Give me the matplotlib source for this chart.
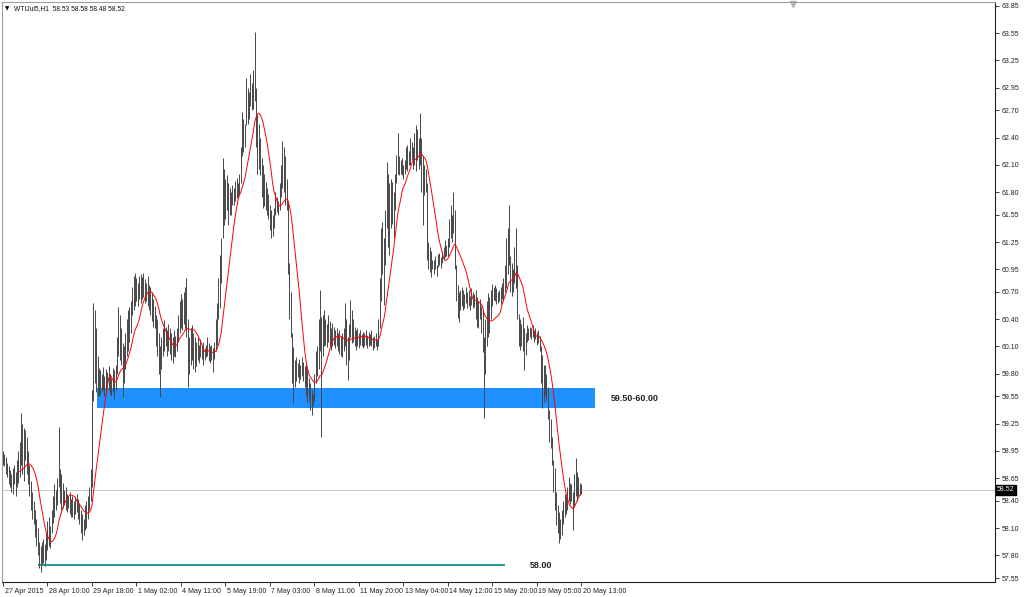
import numpy as np
import pandas as pd
import matplotlib
matplotlib.use('Agg')
import matplotlib.pyplot as plt
import matplotlib.transforms as mtransforms
from matplotlib.patches import Rectangle

plt.rcParams['font.family'] = ['Liberation Sans', 'DejaVu Sans']

# WTI Jul 2015 futures, H1 bars, 27 Apr - 20 May 2015
symbol = 'WTIJul5,H1'
last_ohlc = [58.53, 58.58, 58.48, 58.52]

highs = [
    58.95, 58.92, 58.88, 58.82, 58.78, 58.74, 58.70, 58.76, 58.80, 58.72,
    58.85, 58.95, 59.05, 59.37, 59.25, 59.20, 59.18, 59.10, 58.95, 58.80,
    58.62, 58.50, 58.40, 58.30, 58.20, 58.10, 57.95, 57.90, 57.95, 57.98,
    57.92, 58.05, 58.18, 58.22, 58.12, 58.30, 58.45, 58.58, 58.52, 58.65,
    59.21, 58.75, 58.70, 58.60, 58.52, 58.55, 58.48, 58.45, 58.50, 58.42,
    58.45, 58.40, 58.44, 58.48, 58.42, 58.38, 58.30, 58.25, 58.20, 58.35,
    58.40, 58.45, 58.55, 58.75, 59.62, 60.58, 60.50, 60.30, 60.00, 59.86,
    59.84, 59.80, 59.87, 59.78, 59.85, 59.82, 59.88, 59.80, 59.75, 59.86,
    59.84, 59.90, 60.20, 60.54, 60.45, 60.30, 60.14, 60.10, 60.25, 60.40,
    60.50, 60.54, 60.60, 60.75, 60.88, 60.91, 60.85, 60.80, 60.88, 60.90,
    60.86, 60.91, 60.84, 60.80, 60.88, 60.78, 60.76, 60.70, 60.62, 60.55,
    60.45, 60.40, 60.25, 60.10, 60.20, 60.30, 60.39, 60.32, 60.28, 60.35,
    60.30, 60.25, 60.20, 60.28, 60.22, 60.30, 60.45, 60.60, 60.68, 60.62,
    60.70, 60.75, 60.85, 60.40, 60.20, 60.30, 60.34, 60.25, 60.20, 60.15,
    60.20, 60.12, 60.18, 60.10, 60.15, 60.08, 60.12, 60.20, 60.14, 60.10,
    60.12, 60.08, 60.15, 60.40, 60.58, 60.85, 61.11, 61.30, 62.18, 62.05,
    61.95, 61.99, 61.90, 61.85, 61.80, 61.88, 61.85, 61.92, 61.96, 61.90,
    62.00, 62.30, 62.68, 62.60, 62.55, 63.06, 62.95, 62.90, 63.10, 63.00,
    63.15, 63.56, 62.95, 62.65, 62.55, 62.40, 62.18, 62.10, 62.00, 61.91,
    61.85, 61.78, 61.66, 61.60, 61.55, 61.62, 61.80, 61.75, 61.70, 61.90,
    62.10, 62.36, 62.30, 62.20, 61.95, 61.70, 61.02, 60.70, 60.25, 60.09,
    59.95, 59.98, 59.92, 59.96, 59.90, 59.98, 59.93, 59.88, 59.91, 59.85,
    59.75, 59.70, 59.62, 59.58, 59.80, 60.05, 60.10, 60.40, 60.72, 60.42,
    60.45, 60.50, 60.40, 60.35, 60.45, 60.38, 60.30, 60.36, 60.32, 60.28,
    60.30, 60.25, 60.28, 60.22, 60.25, 60.30, 60.58, 60.40, 60.20, 60.35,
    60.61, 60.50, 60.40, 60.31, 60.28, 60.30, 60.25, 60.28, 60.24, 60.26,
    60.25, 60.28, 60.22, 60.26, 60.24, 60.28, 60.20, 60.22, 60.25, 60.18,
    60.40, 60.85, 61.40, 61.47, 61.30, 61.60, 62.13, 62.00, 61.90, 61.95,
    61.91, 61.80, 62.00, 62.21, 62.45, 62.20, 62.15, 62.18, 62.10, 62.15,
    62.30, 62.32, 62.25, 62.40, 62.35, 62.30, 62.45, 62.54, 62.50, 62.40,
    62.67, 62.40, 62.20, 62.10, 62.05, 61.90, 61.25, 61.20, 61.15, 61.05,
    61.05, 61.10, 61.00, 61.12, 61.13, 61.08, 61.15, 61.20, 61.27, 61.22,
    61.30, 61.50, 61.66, 61.55, 61.80, 61.60, 61.00, 60.78, 60.70, 60.72,
    60.75, 60.72, 60.68, 60.75, 60.70, 60.72, 60.66, 60.74, 60.70, 60.68,
    60.72, 60.65, 60.60, 60.62, 60.55, 60.50, 60.20, 60.40, 60.60, 60.69,
    60.65, 60.72, 60.79, 60.76, 60.78, 60.74, 60.70, 60.72, 60.76, 60.80,
    60.85, 61.00, 61.30, 61.40, 61.66, 61.10, 61.02, 60.95, 61.20, 61.40,
    61.00, 60.46, 60.40, 60.35, 60.42, 60.30, 60.25, 60.34, 60.30, 60.32,
    60.30, 60.34, 60.28, 60.30, 60.26, 60.28, 60.22, 60.10, 60.01, 59.90,
    59.90, 59.80, 59.65, 59.40, 59.30, 59.10, 58.85, 58.76, 58.50, 58.35,
    58.28, 58.20, 58.30, 58.40, 58.47, 58.45, 58.55, 58.66, 58.60, 58.58,
    58.50, 58.70, 58.87, 58.72, 58.66, 58.60, 58.58,
]

lows = [
    58.80, 58.78, 58.70, 58.66, 58.58, 58.55, 58.50, 58.48, 58.58, 58.45,
    58.55, 58.60, 58.66, 58.80, 58.70, 58.62, 58.85, 58.70, 58.58, 58.45,
    58.30, 58.20, 58.15, 58.00, 57.90, 57.80, 57.66, 57.62, 57.70, 57.72,
    57.68, 57.75, 57.86, 57.90, 57.88, 58.05, 58.16, 58.22, 58.30, 58.35,
    58.55, 58.38, 58.30, 58.32, 58.35, 58.30, 58.28, 58.32, 58.25, 58.22,
    58.22, 58.20, 58.25, 58.28, 58.20, 58.15, 58.05, 57.97, 58.02, 58.08,
    58.10, 58.20, 58.30, 58.40, 58.55, 59.50, 59.70, 59.60, 59.55, 59.55,
    59.58, 59.60, 59.62, 59.55, 59.60, 59.64, 59.62, 59.58, 59.55, 59.60,
    59.52, 59.62, 59.80, 60.00, 59.95, 59.90, 59.54, 59.70, 59.85, 60.00,
    60.05, 60.15, 60.25, 60.45, 60.50, 60.55, 60.60, 60.55, 60.62, 60.58,
    60.62, 60.65, 60.58, 60.60, 60.55, 60.50, 60.45, 60.38, 60.31, 60.30,
    60.10, 60.00, 59.80, 59.54, 59.85, 60.00, 60.05, 60.10, 60.00, 60.05,
    60.02, 59.95, 59.92, 60.00, 59.98, 60.05, 60.15, 60.25, 60.30, 60.28,
    60.35, 60.30, 60.20, 59.65, 59.80, 59.90, 59.95, 59.85, 59.82, 59.88,
    59.95, 59.92, 59.98, 59.96, 59.90, 59.95, 59.98, 60.00, 59.94, 59.92,
    59.95, 59.82, 59.96, 60.05, 60.12, 60.40, 60.52, 60.80, 61.30, 61.44,
    61.50, 61.60, 61.44, 61.55, 61.55, 61.66, 61.66, 61.70, 61.74, 61.75,
    61.78, 61.90, 62.20, 62.24, 62.30, 62.54, 62.55, 62.60, 62.75, 62.70,
    62.72, 62.80, 62.30, 62.00, 62.05, 61.99, 61.75, 61.63, 61.65, 61.60,
    61.55, 61.50, 61.38, 61.30, 61.32, 61.40, 61.55, 61.58, 61.55, 61.60,
    61.75, 61.85, 61.80, 61.66, 61.60, 60.90, 60.40, 60.20, 59.70, 59.48,
    59.65, 59.72, 59.76, 59.70, 59.74, 59.78, 59.72, 59.65, 59.55, 59.48,
    59.50, 59.40, 59.35, 59.45, 59.50, 59.70, 59.78, 59.85, 60.05, 59.10,
    60.00, 60.10, 60.12, 60.09, 60.15, 60.10, 60.06, 60.10, 60.12, 60.08,
    60.10, 60.05, 60.02, 60.00, 59.98, 60.05, 60.10, 59.90, 59.73, 59.95,
    60.20, 60.14, 60.15, 60.10, 60.06, 60.10, 60.08, 60.12, 60.10, 60.08,
    60.10, 60.12, 60.08, 60.10, 60.12, 60.10, 60.06, 60.08, 60.10, 60.06,
    60.10, 60.30, 60.60, 60.90, 60.56, 61.00, 61.40, 61.20, 61.11, 61.40,
    61.45, 61.30, 61.60, 61.90, 62.00, 61.99, 62.00, 61.99, 61.95, 62.00,
    62.05, 62.03, 62.10, 62.10, 62.15, 62.05, 62.10, 62.03, 62.15, 62.05,
    62.10, 61.80, 61.44, 61.77, 61.80, 61.05, 60.95, 60.92, 60.87, 60.95,
    60.90, 60.95, 60.88, 60.98, 61.00, 60.96, 61.02, 61.05, 61.08, 61.10,
    61.10, 61.20, 61.30, 61.25, 61.35, 60.95, 60.60, 60.41, 60.37, 60.50,
    60.55, 60.50, 60.52, 60.58, 60.52, 60.55, 60.50, 60.56, 60.52, 60.54,
    60.40, 60.32, 60.30, 60.40, 60.25, 60.04, 59.31, 59.80, 60.10, 60.20,
    60.25, 60.40, 60.55, 60.61, 60.60, 60.57, 60.58, 60.60, 60.57, 60.62,
    60.60, 60.70, 60.74, 60.90, 61.00, 60.70, 60.66, 60.70, 60.80, 60.74,
    60.40, 60.10, 60.06, 60.10, 60.05, 59.84, 60.01, 60.15, 60.17, 60.20,
    60.18, 60.20, 60.15, 60.18, 60.12, 60.14, 60.05, 59.70, 59.42, 59.49,
    59.56, 59.50, 59.30, 59.05, 58.98, 58.80, 58.50, 58.30, 58.13, 58.05,
    57.94, 57.98, 58.02, 58.15, 58.22, 58.25, 58.30, 58.40, 58.36, 58.40,
    58.08, 58.35, 58.45, 58.40, 58.45, 58.46, 58.48,
]

ma_period = 13

# one label every 32 bars
time_labels = ['27 Apr 2015', '28 Apr 10:00', '29 Apr 18:00', '1 May 02:00',
               '4 May 11:00', '5 May 19:00', '7 May 03:00', '8 May 11:00',
               '11 May 20:00', '13 May 04:00', '14 May 12:00', '15 May 20:00',
               '19 May 05:00', '20 May 13:00']
label_step = 32

price_ticks = [63.85, 63.55, 63.25, 62.95, 62.70, 62.40, 62.10, 61.80, 61.55,
               61.25, 60.95, 60.70, 60.40, 60.10, 59.80, 59.55, 59.25, 58.95,
               58.65, 58.40, 58.10, 57.80, 57.55]

# drawn objects
zone_low, zone_high = 59.42, 59.645
zone_bars = (67.6, 426.0)
zone_text = '59.50-60.00'
support_level = 57.69
support_bars = (25.2, 361.0)
support_text = '58.00'

fig = plt.figure(figsize=(10.24, 5.97), dpi=100)
ax = fig.add_axes([2 / 1024, 15 / 597, 993 / 1024, 580 / 597])

x = np.arange(len(highs))
ax.vlines(x, lows, highs, color='#474747', lw=0.7, zorder=3)

median = (np.array(highs) + np.array(lows)) / 2
ma = pd.Series(median).rolling(ma_period).mean()
ax.plot(x, ma, color='red', lw=0.7, zorder=4)

ax.add_patch(Rectangle((zone_bars[0], zone_low), zone_bars[1] - zone_bars[0],
                       zone_high - zone_low, color='#1E90FF', lw=0, zorder=2))
ax.text(zone_bars[1] + 11, (zone_low + zone_high) / 2, zone_text, fontsize=6.5,
        fontweight='bold', color='#222222', va='center', ha='left')

ax.hlines(support_level, support_bars[0], support_bars[1], color='#2E9A94', lw=1.5, zorder=2)
ax.text(support_bars[1] + 18, support_level, support_text, fontsize=6.5,
        fontweight='bold', color='#222222', va='center', ha='left')

# last price line and marker on the price scale
ax.axhline(last_ohlc[3], color='#c8c8c8', lw=0.7, zorder=1)
ax.annotate('%.2f' % last_ohlc[3], xy=(1, last_ohlc[3]), xycoords=('axes fraction', 'data'),
            xytext=(1.5, 0), textcoords='offset points', ha='left', va='center',
            fontsize=5, color='white',
            bbox=dict(boxstyle='square,pad=0.2', fc='black', ec='black'))

ax.set_xlim(-0.72, 713.7)
ax.set_ylim(57.506, 63.894)

ax.set_xticks(np.arange(len(time_labels)) * label_step)
ax.set_xticklabels(time_labels)
ax.tick_params(axis='x', length=3, width=0.6, labelsize=5.1, pad=1.5, colors='#222222')
shift = mtransforms.ScaledTranslation(1.5 / 100, 0, fig.dpi_scale_trans)
for lab in ax.get_xticklabels():
    lab.set_horizontalalignment('left')
    lab.set_transform(lab.get_transform() + shift)

ax.yaxis.tick_right()
ax.set_yticks(price_ticks)
ax.set_yticklabels(['%.2f' % p for p in price_ticks])
ax.tick_params(axis='y', length=3, width=0.6, labelsize=5, pad=2, colors='#222222')

for side in ['left', 'top']:
    ax.spines[side].set_color('#a0a0a0')
    ax.spines[side].set_linewidth(0.8)
for side in ['right', 'bottom']:
    ax.spines[side].set_color('#222222')
    ax.spines[side].set_linewidth(0.8)

# chart header and shift marker
fig.text(5 / 1024, 1 - 9 / 597, '\u25bc', fontsize=4, va='center', family='DejaVu Sans')
fig.text(14 / 1024, 1 - 9 / 597, '%s  %s' % (symbol, ' '.join('%.2f' % v for v in last_ohlc)),
         fontsize=4.8, va='center', color='#111111')
ax.plot([0.797], [0.997], marker='v', color='#b4b4b4', ms=5, transform=ax.transAxes, clip_on=False)

fig.savefig('out.png', dpi=100)
